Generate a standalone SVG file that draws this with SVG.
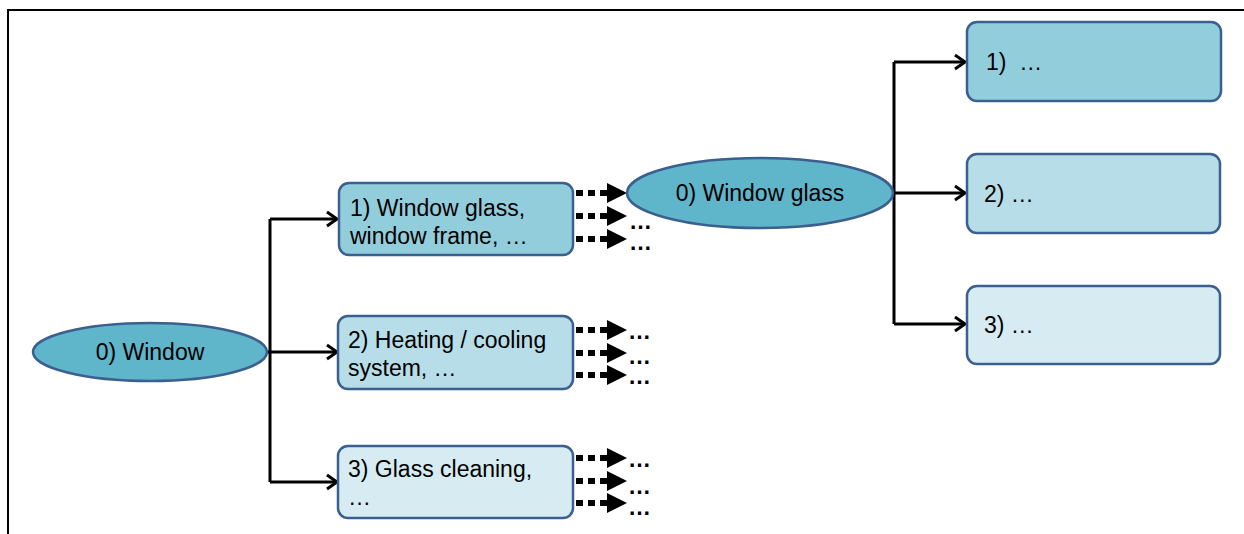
<svg xmlns="http://www.w3.org/2000/svg" width="1244" height="534" viewBox="0 0 1244 534">
<style>
  .node { stroke: #3B5F8E; stroke-width: 2.5; }
  .ell { fill: #5FB5CA; }
  .c1 { fill: #92CDDC; }
  .c2 { fill: #B6DDE8; }
  .c3 { fill: #D6ECF2; }
  text { font-family: "Liberation Sans", Arial, sans-serif; font-size: 23px; fill: #000; }
  .dots { font-weight: bold; font-size: 23px; }
  .conn { fill: none; stroke: #000; stroke-width: 3; }
  .dash { fill: none; stroke: #000; stroke-width: 6; stroke-dasharray: 7 5; }
  .frame { fill: none; stroke: #000; stroke-width: 2; }
</style>
<defs>
  <marker id="open" markerUnits="userSpaceOnUse" markerWidth="14" markerHeight="18" refX="12" refY="9" orient="auto" overflow="visible">
    <path d="M2,2 L12,9 L2,16" fill="none" stroke="#000" stroke-width="3"/>
  </marker>
  <marker id="tri" markerUnits="userSpaceOnUse" markerWidth="20" markerHeight="20" refX="0" refY="10" orient="auto" overflow="visible">
    <path d="M0,0 L20,10 L0,20 Z" fill="#000"/>
  </marker>
</defs>
<rect width="1244" height="534" fill="#fff"/>
<path class="frame" d="M8,534 V10 H1244"/>

<g id="connectors">
  <path class="conn" d="M267,352 H270"/>
  <path class="conn" d="M270,219 V482"/>
  <path class="conn" d="M270,219 H337" marker-end="url(#open)"/>
  <path class="conn" d="M270,352 H337" marker-end="url(#open)"/>
  <path class="conn" d="M270,482 H337" marker-end="url(#open)"/>
  <path class="conn" d="M894,62 V324"/>
  <path class="conn" d="M894,62 H965" marker-end="url(#open)"/>
  <path class="conn" d="M892,193 H965" marker-end="url(#open)"/>
  <path class="conn" d="M894,324 H965" marker-end="url(#open)"/>
  <path class="dash" d="M576,193 H607" marker-end="url(#tri)"/>
  <path class="dash" d="M576,216 H607" marker-end="url(#tri)"/>
  <path class="dash" d="M576,239 H607" marker-end="url(#tri)"/>
  <path class="dash" d="M576,330 H607" marker-end="url(#tri)"/>
  <path class="dash" d="M576,353 H607" marker-end="url(#tri)"/>
  <path class="dash" d="M576,375 H607" marker-end="url(#tri)"/>
  <path class="dash" d="M576,458 H607" marker-end="url(#tri)"/>
  <path class="dash" d="M576,481 H607" marker-end="url(#tri)"/>
  <path class="dash" d="M576,503 H607" marker-end="url(#tri)"/>
  <text class="dots" x="629" y="229">…</text>
  <text class="dots" x="629" y="250">…</text>
  <text class="dots" x="628" y="339">…</text>
  <text class="dots" x="628" y="364">…</text>
  <text class="dots" x="628" y="384">…</text>
  <text class="dots" x="628" y="467">…</text>
  <text class="dots" x="628" y="494">…</text>
  <text class="dots" x="628" y="515">…</text>
</g>

<g id="n-window">
  <ellipse class="node ell" cx="150" cy="352" rx="117" ry="29"/>
  <text x="150" y="360" text-anchor="middle">0) Window</text>
</g>
<g id="n-l1">
  <rect class="node c1" x="339" y="183" width="234" height="72" rx="10"/>
  <text x="350" y="216">1) Window glass,</text>
  <text x="350" y="244">window frame, …</text>
</g>
<g id="n-l2">
  <rect class="node c2" x="338" y="316" width="235" height="73" rx="10"/>
  <text x="348" y="348">2) Heating / cooling</text>
  <text x="348" y="376">system, …</text>
</g>
<g id="n-l3">
  <rect class="node c3" x="338" y="446" width="235" height="72" rx="10"/>
  <text x="348" y="477">3) Glass cleaning,</text>
  <text x="348" y="505">…</text>
</g>
<g id="n-glass">
  <ellipse class="node ell" cx="760" cy="193" rx="133" ry="35"/>
  <text x="760" y="201" text-anchor="middle">0) Window glass</text>
</g>
<g id="n-r1">
  <rect class="node c1" x="967" y="22" width="254" height="79" rx="10"/>
  <text x="986" y="70" xml:space="preserve">1)  …</text>
</g>
<g id="n-r2">
  <rect class="node c2" x="967" y="154" width="253" height="79" rx="10"/>
  <text x="984" y="202">2) …</text>
</g>
<g id="n-r3">
  <rect class="node c3" x="967" y="286" width="253" height="78" rx="10"/>
  <text x="984" y="333">3) …</text>
</g>
</svg>
